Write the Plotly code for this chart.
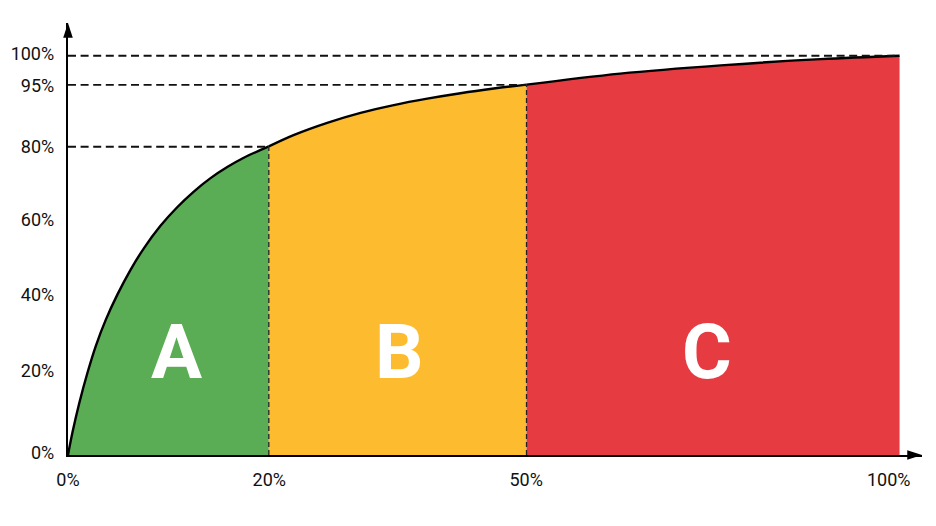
import plotly.graph_objects as go

# Axis positions (the reference axes are not to scale, so ticks carry their own labels)
curve_x = [0, 0.54, 1.35, 2.35, 3.34, 4.55, 5.95, 7.52, 9.12, 11.12, 13.13, 15.13, 17.14, 19.15, 21.14, 24.15,
           27.12, 31.17, 35.18, 39.18, 43.2, 47.2, 51.2, 55.14, 66.4, 78.5, 90.5, 100]
curve_y = [0, 5.67, 12.96, 20.66, 27.29, 33.91, 40.23, 46.38, 51.77, 57.4, 62.05, 65.98, 69.34, 72.12, 74.44, 77.29,
           80.12, 83.2, 85.69, 87.65, 89.26, 90.62, 91.78, 92.77, 95.53, 97.59, 99.15, 100]

split_a = 15
split_b = 23

x_tick_pos = [0, 24.2, 55.1, 98.7]
x_tick_text = ["0%", "20%", "50%", "100%"]
y_tick_pos = [0.5, 21, 40.1, 58.9, 77.2, 92.5, 100.5]
y_tick_text = ["0%", "20%", "40%", "60%", "80%", "95%", "100%"]

level_y = [77.2, 92.7, 100]
level_end_x = [24.1, 55.1, 100]
divider_x = [24.15, 55.14]
divider_top = [77.29, 92.77]

class_names = ["A", "B", "C"]
class_x = [13.1, 39.9, 76.8]
class_y = [25.8, 25.8, 25.8]
class_colors = ["#5AAD55", "#FDBC30", "#E63B40"]

arrow_tip_x = 102.7
arrow_tip_y = 108.2

fig = go.Figure()

segments = [(0, split_a), (split_a, split_b), (split_b, len(curve_x) - 1)]
for (start, end), color in zip(segments, class_colors):
    fig.add_trace(go.Scatter(
        x=curve_x[start:end + 1], y=curve_y[start:end + 1],
        mode="lines", fill="tozeroy", fillcolor=color,
        line=dict(color="#000000", width=2.4, shape="spline", smoothing=1.0),
        hoverinfo="skip",
    ))

for lx, ly in zip(level_end_x, level_y):
    fig.add_trace(go.Scatter(
        x=[0, lx], y=[ly, ly], mode="lines",
        line=dict(color="#111111", width=1.8, dash="8px,4.6px"), hoverinfo="skip",
    ))

for dx, dy in zip(divider_x, divider_top):
    fig.add_trace(go.Scatter(
        x=[dx, dx], y=[0, dy], mode="lines",
        line=dict(color="#222222", width=1.3, dash="5px,3px"), hoverinfo="skip",
    ))

# Arrow heads at the axis ends
fig.add_trace(go.Scatter(
    x=[0, arrow_tip_x], y=[arrow_tip_y, 0], mode="markers", cliponaxis=False,
    marker=dict(symbol="arrow", size=15.5, color="#000000", angle=[0, 90], line=dict(width=0)),
    hoverinfo="skip",
))

for name, cx, cy in zip(class_names, class_x, class_y):
    fig.add_annotation(
        x=cx, y=cy, text=f"<b>{name}</b>", showarrow=False,
        font=dict(family="Roboto", size=76, color="#FFFFFF"),
    )

fig.update_layout(
    width=920, height=510, showlegend=False,
    paper_bgcolor="#FFFFFF", plot_bgcolor="#FFFFFF",
    margin=dict(l=59.5, r=6.3, t=15.3, b=63),
    font=dict(family="Roboto", size=18, color="#111111"),
)
fig.update_xaxes(
    range=[0, arrow_tip_x], tickmode="array", tickvals=x_tick_pos, ticktext=x_tick_text,
    showgrid=False, zeroline=False, showline=True, linecolor="#000000", linewidth=2.4,
    ticks="", ticklabelstandoff=7, layer="above traces", automargin=False,
)
fig.update_yaxes(
    range=[0, arrow_tip_y], tickmode="array", tickvals=y_tick_pos, ticktext=y_tick_text,
    showgrid=False, zeroline=False, showline=True, linecolor="#000000", linewidth=2.4,
    ticks="", ticklabelstandoff=8, layer="above traces", automargin=False,
)

fig.write_html("out.html")
